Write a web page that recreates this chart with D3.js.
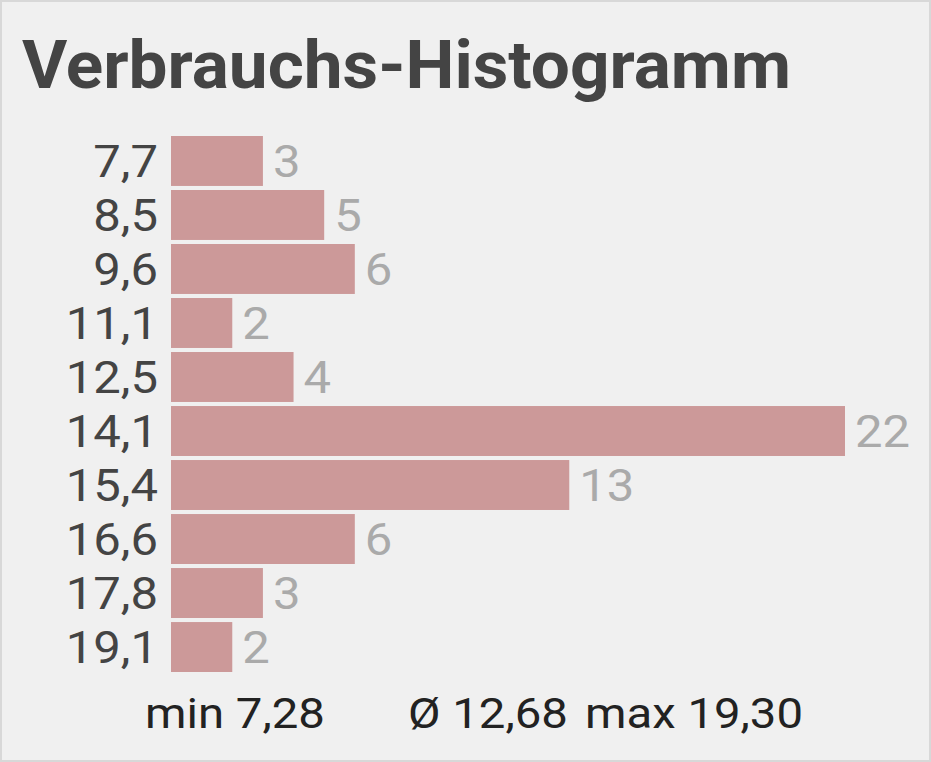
<!DOCTYPE html>
<html><head><meta charset="utf-8">
<script src="https://cdn.jsdelivr.net/npm/d3@7"></script>
<style>body{margin:0;background:#fff}svg{display:block}</style>
</head><body>
<script>
const categories = ["7,7","8,5","9,6","11,1","12,5","14,1","15,4","16,6","17,8","19,1"];
const counts = [3,5,6,2,4,22,13,6,3,2];
const stats = [["min 7,28",145],["Ø 12,68",408],["max 19,30",585]];

const W=931,H=762;
const svg=d3.select("body").append("svg").attr("width",W).attr("height",H).style("font-family","Roboto");
svg.append("rect").attr("x",1).attr("y",1).attr("width",W-2).attr("height",H-2).attr("fill","#f0f0f0").attr("stroke","#d8d8d8").attr("stroke-width",2);
function txt(px,py,size,sx,fill,t,anchor,weight){
  return svg.append("text").attr("transform",`translate(${px},${py}) scale(${sx},1)`)
    .attr("font-size",size).attr("fill",fill).attr("text-anchor",anchor||"start")
    .attr("font-weight",weight||"normal").text(t);
}
txt(22,88,66,1.05,"#444","Verbrauchs-Histogramm","start","bold");

const x=d3.scaleLinear().domain([0,22]).range([171,845]);
const y=d3.scaleBand().domain(categories).range([136,672]).paddingInner(0.075).paddingOuter(0.0);
categories.forEach((c,i)=>{
  const v=counts[i];
  svg.append("rect").attr("x",x(0)).attr("y",y(c)).attr("width",x(v)-x(0)).attr("height",y.bandwidth()).attr("fill","#cc9999");
  const cy=y(c)+y.bandwidth()/2+16;
  txt(158,cy,45,1.09,"#444",c,"end");
  txt(x(v)+10,cy,45,1.09,"#aaa",v);
});
stats.forEach(([t,px])=>txt(px,728,43,1.1,"#222",t));
</script>
</body></html>
